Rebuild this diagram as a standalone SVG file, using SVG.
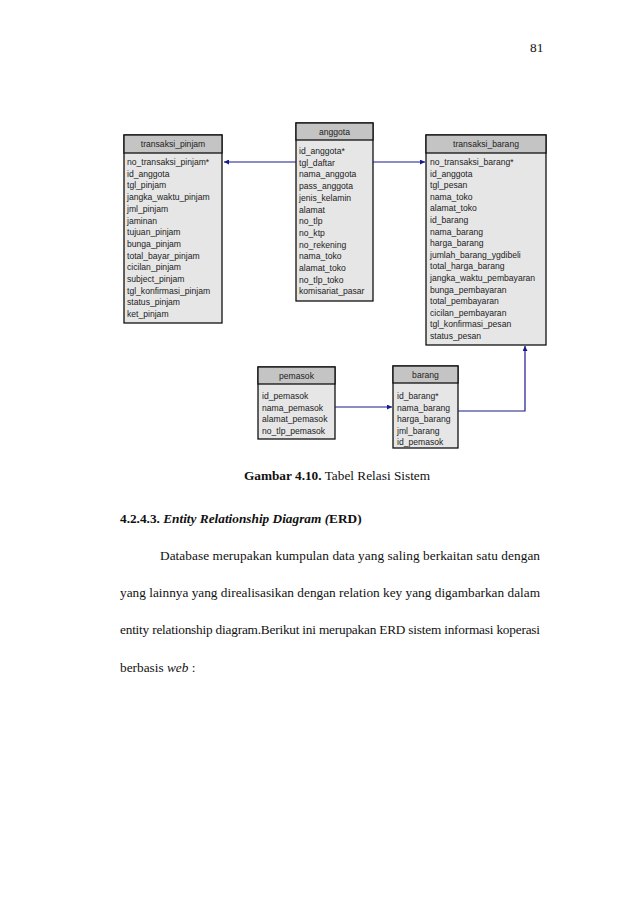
<svg xmlns="http://www.w3.org/2000/svg" width="638" height="903" viewBox="0 0 638 903">
<style>
.hdr{fill:#c4c4c4;stroke:#111;stroke-width:1.3}
.body{fill:#e6e6e6;stroke:#111;stroke-width:1.3}
.t{font-family:"Liberation Sans",Arial,sans-serif;font-size:8.6px;fill:#222}
.h{font-family:"Liberation Sans",Arial,sans-serif;font-size:8.6px;fill:#222;text-anchor:middle}
.c{fill:none;stroke:#1a1a8c;stroke-width:1.2}
.p{font-family:"Liberation Serif","Times New Roman",serif;font-size:13.3px;fill:#111}
</style>
<defs>
<marker id="ah" viewBox="0 0 10 10" refX="10" refY="5" markerWidth="7" markerHeight="5" orient="auto" markerUnits="userSpaceOnUse">
<path d="M0,0 L10,5 L0,10 Z" fill="#1a1a8c"/>
</marker>
</defs>
<rect width="638" height="903" fill="#fff"/>
<text class="p" x="530" y="52">81</text>

<g id="transaksi_pinjam">
<rect class="body" x="124" y="135" width="98" height="188"/>
<rect class="hdr" x="124" y="135" width="98" height="18"/>
<text class="h" x="173" y="147">transaksi_pinjam</text>
<text class="t" x="127" y="165">no_transaksi_pinjam*</text>
<text class="t" x="127" y="176.7">id_anggota</text>
<text class="t" x="127" y="188.4">tgl_pinjam</text>
<text class="t" x="127" y="200.1">jangka_waktu_pinjam</text>
<text class="t" x="127" y="211.8">jml_pinjam</text>
<text class="t" x="127" y="223.5">jaminan</text>
<text class="t" x="127" y="235.2">tujuan_pinjam</text>
<text class="t" x="127" y="246.9">bunga_pinjam</text>
<text class="t" x="127" y="258.6">total_bayar_pinjam</text>
<text class="t" x="127" y="270.3">cicilan_pinjam</text>
<text class="t" x="127" y="282">subject_pinjam</text>
<text class="t" x="127" y="293.7">tgl_konfirmasi_pinjam</text>
<text class="t" x="127" y="305.4">status_pinjam</text>
<text class="t" x="127" y="317.1">ket_pinjam</text>
</g>

<g id="anggota">
<rect class="body" x="296" y="123" width="77" height="178"/>
<rect class="hdr" x="296" y="123" width="77" height="17"/>
<text class="h" x="334.5" y="134.5">anggota</text>
<text class="t" x="299" y="154">id_anggota*</text>
<text class="t" x="299" y="165.7">tgl_daftar</text>
<text class="t" x="299" y="177.4">nama_anggota</text>
<text class="t" x="299" y="189.1">pass_anggota</text>
<text class="t" x="299" y="200.8">jenis_kelamin</text>
<text class="t" x="299" y="212.5">alamat</text>
<text class="t" x="299" y="224.2">no_tlp</text>
<text class="t" x="299" y="235.9">no_ktp</text>
<text class="t" x="299" y="247.6">no_rekening</text>
<text class="t" x="299" y="259.3">nama_toko</text>
<text class="t" x="299" y="271">alamat_toko</text>
<text class="t" x="299" y="282.7">no_tlp_toko</text>
<text class="t" x="299" y="294.4">komisariat_pasar</text>
</g>

<g id="transaksi_barang">
<rect class="body" x="426" y="135" width="120" height="210"/>
<rect class="hdr" x="426" y="135" width="120" height="18"/>
<text class="h" x="486" y="147">transaksi_barang</text>
<text class="t" x="430" y="165">no_transaksi_barang*</text>
<text class="t" x="430" y="176.6">id_anggota</text>
<text class="t" x="430" y="188.2">tgl_pesan</text>
<text class="t" x="430" y="199.8">nama_toko</text>
<text class="t" x="430" y="211.4">alamat_toko</text>
<text class="t" x="430" y="223">id_barang</text>
<text class="t" x="430" y="234.6">nama_barang</text>
<text class="t" x="430" y="246.2">harga_barang</text>
<text class="t" x="430" y="257.8">jumlah_barang_ygdibeli</text>
<text class="t" x="430" y="269.4">total_harga_barang</text>
<text class="t" x="430" y="281">jangka_waktu_pembayaran</text>
<text class="t" x="430" y="292.6">bunga_pembayaran</text>
<text class="t" x="430" y="304.2">total_pembayaran</text>
<text class="t" x="430" y="315.8">cicilan_pembayaran</text>
<text class="t" x="430" y="327.4">tgl_konfirmasi_pesan</text>
<text class="t" x="430" y="339">status_pesan</text>
</g>

<g id="pemasok">
<rect class="body" x="258" y="367" width="77" height="72"/>
<rect class="hdr" x="258" y="367" width="77" height="17"/>
<text class="h" x="296.5" y="378.5">pemasok</text>
<text class="t" x="262" y="399">id_pemasok</text>
<text class="t" x="262" y="410.6">nama_pemasok</text>
<text class="t" x="262" y="422.2">alamat_pemasok</text>
<text class="t" x="262" y="433.8">no_tlp_pemasok</text>
</g>

<g id="barang">
<rect class="body" x="393" y="366" width="65" height="82"/>
<rect class="hdr" x="393" y="366" width="65" height="17"/>
<text class="h" x="425.5" y="377.5">barang</text>
<text class="t" x="397" y="399">id_barang*</text>
<text class="t" x="397" y="410.6">nama_barang</text>
<text class="t" x="397" y="422.2">harga_barang</text>
<text class="t" x="397" y="433.8">jml_barang</text>
<text class="t" x="397" y="445.4">id_pemasok</text>
</g>

<g id="connectors">
<path class="c" d="M296,162 L224,162" marker-end="url(#ah)"/>
<path class="c" d="M373,162 L425,162" marker-end="url(#ah)"/>
<path class="c" d="M335,407 L392,407" marker-end="url(#ah)"/>
<path class="c" d="M458,411 L525,411 L525,346" marker-end="url(#ah)"/>
</g>

<text class="p" x="337" y="480" text-anchor="middle"><tspan font-weight="bold">Gambar 4.10.</tspan> Tabel Relasi Sistem</text>
<text class="p" x="120" y="523" font-weight="bold">4.2.4.3. <tspan font-style="italic">Entity Relationship Diagram (</tspan>ERD)</text>
<text class="p" x="160" y="560" textLength="380" lengthAdjust="spacing">Database merupakan kumpulan data yang saling berkaitan satu dengan</text>
<text class="p" x="120" y="597" textLength="420" lengthAdjust="spacing">yang lainnya yang direalisasikan dengan relation key yang digambarkan dalam</text>
<text class="p" x="120" y="634" textLength="420" lengthAdjust="spacing">entity relationship diagram.Berikut ini merupakan ERD sistem informasi koperasi</text>
<text class="p" x="120" y="672">berbasis <tspan font-style="italic">web</tspan> :</text>
</svg>
